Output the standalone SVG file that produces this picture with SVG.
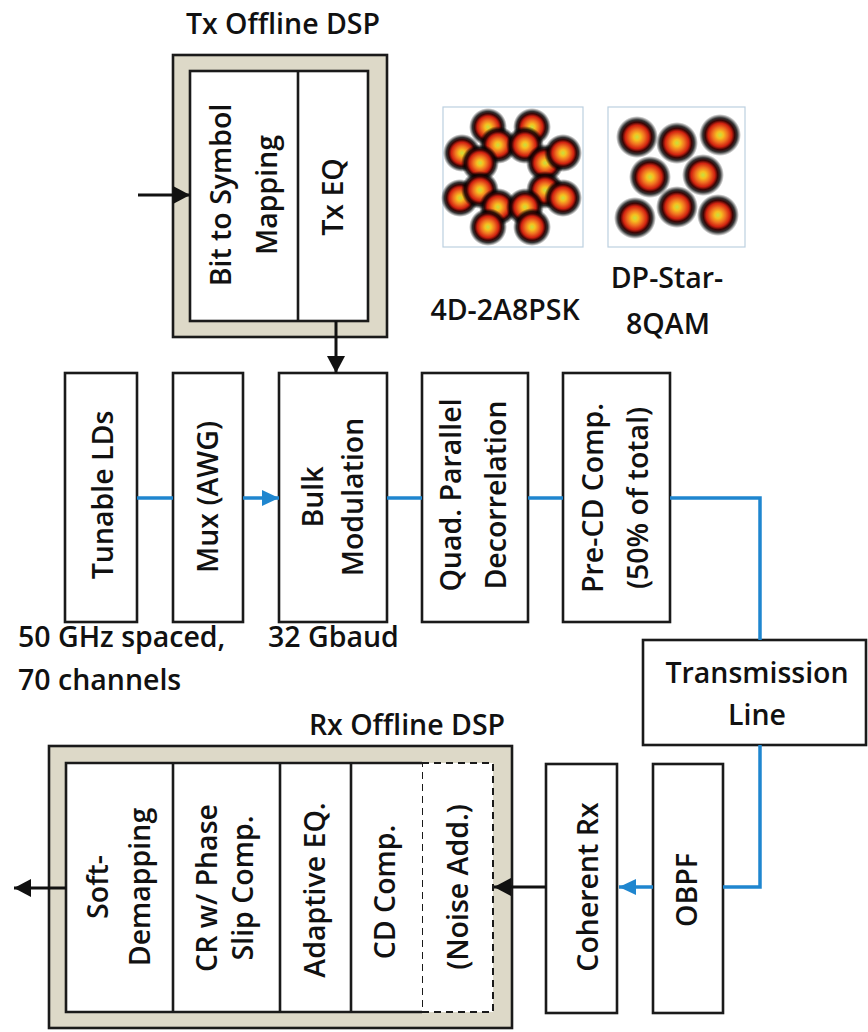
<svg xmlns="http://www.w3.org/2000/svg" width="868" height="1032" viewBox="0 0 868 1032">
<style>
text{font-family:"Open Sans","Liberation Sans",sans-serif;font-size:28.5px;font-weight:600;fill:#111}
.rt{text-anchor:middle}
.box{fill:#fff;stroke:#1a1a1a;stroke-width:2.6}
.dsp{fill:#ddd9c8;stroke:#1a1a1a;stroke-width:2.6}
.blk{fill:none;stroke:#111;stroke-width:3}
.blu{fill:none;stroke:#1f86cf;stroke-width:3.5}
.frame{fill:#fff;stroke:#bcd0e0;stroke-width:1.2}
.dot{fill:url(#dotg)}
</style>
<defs>
<marker id="ab" markerUnits="userSpaceOnUse" markerWidth="18" markerHeight="18" refX="17" refY="9" orient="auto"><path d="M0,0 L17,9 L0,18 z" fill="#111"/></marker>
<marker id="au" markerUnits="userSpaceOnUse" markerWidth="18" markerHeight="18" refX="17" refY="9" orient="auto"><path d="M0,1 L17,9 L0,17 z" fill="#1f86cf"/></marker>
<radialGradient id="dotg">
<stop offset="0" stop-color="#c8e040"/>
<stop offset="0.16" stop-color="#f6c020"/>
<stop offset="0.36" stop-color="#f07020"/>
<stop offset="0.56" stop-color="#d02210"/>
<stop offset="0.7" stop-color="#3a0404"/>
<stop offset="0.82" stop-color="#000" stop-opacity="0.8"/>
<stop offset="1" stop-color="#000" stop-opacity="0"/>
</radialGradient>
</defs>

<g id="tx-dsp">
<text x="283" y="34" class="rt">Tx Offline DSP</text>
<rect class="dsp" x="173" y="55" width="214" height="282"/>
<rect class="box" x="190" y="71" width="178" height="250"/>
<line x1="298" y1="71" x2="298" y2="321" stroke="#1a1a1a" stroke-width="2.6"/>
<text class="rt" transform="translate(231,195) rotate(-90)">Bit to Symbol</text>
<text class="rt" transform="translate(277,195) rotate(-90)">Mapping</text>
<text class="rt" transform="translate(343,197) rotate(-90)">Tx EQ</text>
</g>

<g id="const-4d">
<rect class="frame" x="443" y="107" width="140" height="140"/>
<circle class="dot" cx="488" cy="127" r="19"/><circle class="dot" cx="532" cy="127" r="19"/>
<circle class="dot" cx="498" cy="145" r="19"/><circle class="dot" cx="525" cy="145" r="19"/>
<circle class="dot" cx="462" cy="153" r="19"/><circle class="dot" cx="480" cy="163" r="19"/>
<circle class="dot" cx="545" cy="163" r="19"/><circle class="dot" cx="563" cy="153" r="19"/>
<circle class="dot" cx="460" cy="198" r="19"/><circle class="dot" cx="480" cy="190" r="19"/>
<circle class="dot" cx="545" cy="190" r="19"/><circle class="dot" cx="563" cy="198" r="19"/>
<circle class="dot" cx="498" cy="207" r="19"/><circle class="dot" cx="525" cy="207" r="19"/>
<circle class="dot" cx="488" cy="227" r="19"/><circle class="dot" cx="532" cy="227" r="19"/>
<text x="505" y="320" class="rt">4D-2A8PSK</text>
</g>

<g id="const-star">
<rect class="frame" x="608" y="107" width="137" height="140"/>
<circle class="dot" cx="637" cy="137" r="21"/><circle class="dot" cx="677" cy="143" r="21"/>
<circle class="dot" cx="720" cy="135" r="21"/><circle class="dot" cx="650" cy="177" r="21"/>
<circle class="dot" cx="703" cy="175" r="21"/><circle class="dot" cx="635" cy="218" r="21"/>
<circle class="dot" cx="677" cy="207" r="21"/><circle class="dot" cx="718" cy="215" r="21"/>
<text x="667" y="288" class="rt">DP-Star-</text>
<text x="668" y="334" class="rt">8QAM</text>
</g>

<g id="tunable-lds">
<rect class="box" x="65" y="373" width="72" height="249"/>
<text class="rt" transform="translate(113,495) rotate(-90)">Tunable LDs</text>
</g>
<g id="mux">
<rect class="box" x="173" y="373" width="70" height="249"/>
<text class="rt" transform="translate(218,497) rotate(-90)">Mux (AWG)</text>
</g>
<g id="bulk-mod">
<rect class="box" x="279" y="373" width="108" height="249"/>
<text class="rt" transform="translate(323,497) rotate(-90)">Bulk</text>
<text class="rt" transform="translate(363,497) rotate(-90)">Modulation</text>
</g>
<g id="quad">
<rect class="box" x="422" y="373" width="106" height="249"/>
<text class="rt" transform="translate(461,495) rotate(-90)">Quad. Parallel</text>
<text class="rt" transform="translate(506,495) rotate(-90)">Decorrelation</text>
</g>
<g id="precd">
<rect class="box" x="563" y="373" width="107" height="249"/>
<text class="rt" transform="translate(603,498) rotate(-90)">Pre-CD Comp.</text>
<text class="rt" transform="translate(648,498) rotate(-90)">(50% of total)</text>
</g>

<g id="notes">
<text x="18" y="647">50 GHz spaced,</text>
<text x="18" y="690">70 channels</text>
<text x="268" y="647">32 Gbaud</text>
</g>

<g id="trans-line">
<rect class="box" x="643" y="640" width="223" height="105"/>
<text x="757" y="683" class="rt">Transmission</text>
<text x="757" y="725" class="rt">Line</text>
</g>

<g id="obpf">
<rect class="box" x="653" y="764" width="70" height="249"/>
<text class="rt" transform="translate(697,890) rotate(-90)">OBPF</text>
</g>
<g id="coh-rx">
<rect class="box" x="546" y="764" width="71" height="249"/>
<text class="rt" transform="translate(598,887) rotate(-90)">Coherent Rx</text>
</g>

<g id="rx-dsp">
<text x="407" y="735" class="rt">Rx Offline DSP</text>
<rect class="dsp" x="49" y="746" width="463" height="282"/>
<rect x="422" y="763" width="71" height="249" fill="#fff" stroke="#1a1a1a" stroke-width="2" stroke-dasharray="7,5"/>
<path d="M422,763 H66 V1012 H422" fill="#fff" stroke="#1a1a1a" stroke-width="2.6"/>
<line x1="173" y1="763" x2="173" y2="1012" stroke="#1a1a1a" stroke-width="2.6"/>
<line x1="280" y1="763" x2="280" y2="1012" stroke="#1a1a1a" stroke-width="2.6"/>
<line x1="351" y1="763" x2="351" y2="1012" stroke="#1a1a1a" stroke-width="2.6"/>
<text class="rt" transform="translate(108,887) rotate(-90)">Soft-</text>
<text class="rt" transform="translate(150,887) rotate(-90)">Demapping</text>
<text class="rt" transform="translate(217,888) rotate(-90)">CR w/ Phase</text>
<text class="rt" transform="translate(253,888) rotate(-90)">Slip Comp.</text>
<text class="rt" transform="translate(325,890) rotate(-90)">Adaptive EQ.</text>
<text class="rt" transform="translate(395,892) rotate(-90)">CD Comp.</text>
<text class="rt" transform="translate(468,887) rotate(-90)">(Noise Add.)</text>
</g>

<g id="connectors">
<line class="blk" x1="138" y1="195" x2="190" y2="195" marker-end="url(#ab)"/>
<line class="blk" x1="336" y1="321" x2="336" y2="373" marker-end="url(#ab)"/>
<line class="blu" x1="137" y1="498" x2="173" y2="498"/>
<line class="blu" x1="243" y1="498" x2="279" y2="498" marker-end="url(#au)"/>
<line class="blu" x1="387" y1="498" x2="422" y2="498"/>
<line class="blu" x1="528" y1="498" x2="563" y2="498"/>
<path class="blu" d="M670,498 H760 V640"/>
<path class="blu" d="M760,745 V887 H723"/>
<line class="blu" x1="653" y1="887" x2="619" y2="887" marker-end="url(#au)"/>
<line class="blk" x1="546" y1="887" x2="494" y2="887" marker-end="url(#ab)"/>
<line class="blk" x1="66" y1="888" x2="14" y2="888" marker-end="url(#ab)"/>
</g>
</svg>
